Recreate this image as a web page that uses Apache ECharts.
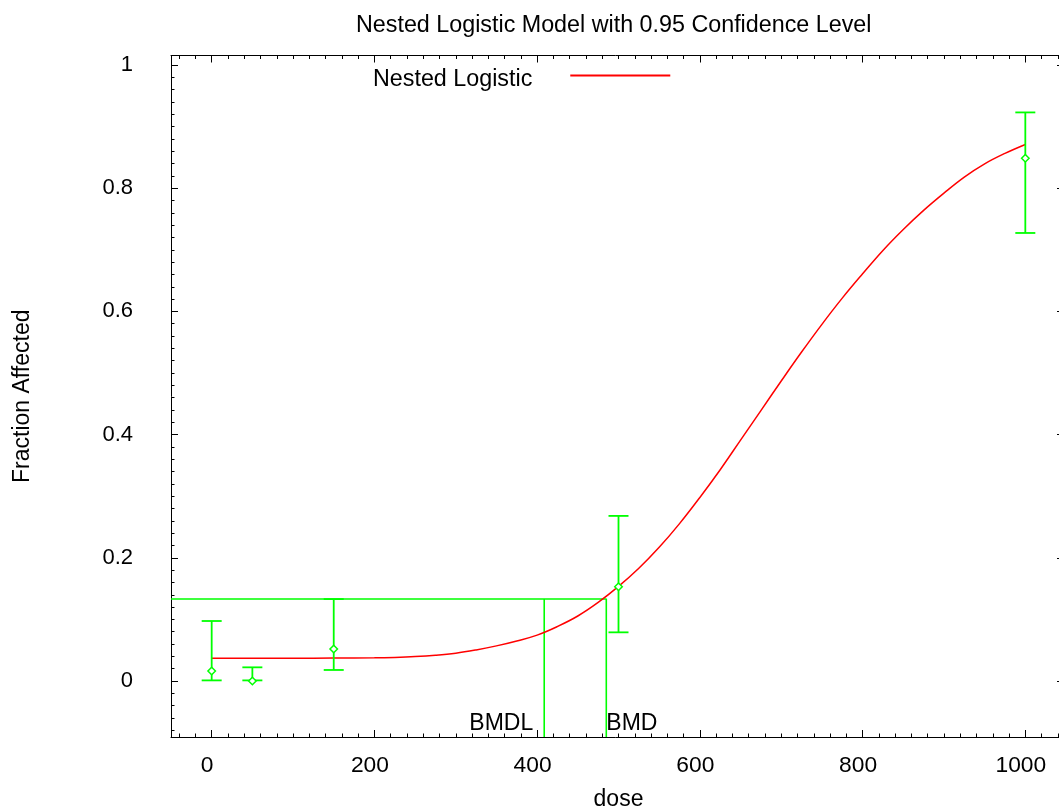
<!DOCTYPE html>
<html>
<head>
<meta charset="utf-8">
<script src="https://cdn.jsdelivr.net/npm/echarts@6/dist/echarts.min.js"></script>
<style>
html,body{margin:0;padding:0;background:#fff;overflow:hidden;}
#chart{width:1059px;height:808px;}
</style>
</head>
<body>
<div id="chart"></div>
<script>
// ---- data ----
const doses      = [0, 50, 150, 500, 1000];
const observed   = [0.0162, 0.0, 0.052, 0.153, 0.8485];
const lowerCI    = [0.001, 0.001, 0.0179, 0.079, 0.7273];
const upperCI    = [0.0974, 0.0222, 0.133, 0.268, 0.923];

const curveDose  = [0, 50, 100, 150, 200, 225, 250, 275, 300, 325, 350, 375, 400, 425, 450, 475, 500,
                    525, 550, 575, 600, 625, 650, 675, 700, 725, 750, 775, 800, 825, 850, 875, 900, 925, 950, 975, 1000];
const curveFrac  = [0.037, 0.037, 0.037, 0.0372, 0.0376, 0.0383, 0.0396, 0.0418, 0.0452, 0.0505, 0.0570, 0.0650, 0.0745, 0.0885, 0.1055, 0.1275, 0.1535,
                    0.183, 0.217, 0.2555, 0.298, 0.343, 0.391, 0.439, 0.487, 0.534, 0.579, 0.6215, 0.661, 0.699, 0.733, 0.764, 0.792, 0.818, 0.8395, 0.8565, 0.871];

const bmrLevel = 0.1331;
const bmdl = 408.7;
const bmd = 485.0;
const markerLabels = ['BMDL', 'BMD'];

const xTickLabels = ['0', '200', '400', '600', '800', '1000'];
const yTickLabels = ['0', '0.2', '0.4', '0.6', '0.8', '1'];

const xMin = -50, xMax = 1050;
const yMin = -0.0909, yMax = 1.0154;

// ---- chart ----
const FONT = "'Liberation Sans', Arial, sans-serif";
const GREEN = '#00ff00';
const chart = echarts.init(document.getElementById('chart'), null, {renderer: 'canvas'});

function axisCommon(showLine, majorLen) {
  return {
    axisLine: {show: showLine, onZero: false, lineStyle: {color: '#000', width: 1}},
    axisTick: {show: true, inside: true, length: majorLen, lineStyle: {color: '#000', width: 1}},
    minorTick: {show: true, splitNumber: 10, length: 3.5, lineStyle: {color: '#000', width: 1}},
    splitLine: {show: false},
    minorSplitLine: {show: false},
  };
}

const option = {
  backgroundColor: '#fff',
  animation: false,
  textStyle: {fontFamily: FONT},
  title: {
    text: 'Nested Logistic Model with 0.95 Confidence Level',
    left: 351, top: 9,
    textStyle: {fontSize: 23.3, fontWeight: 'normal', color: '#000', fontFamily: FONT}
  },
  legend: {
    data: [{name: 'Nested Logistic', icon: 'rect'}],
    left: 373, top: 64, padding: 0,
    align: 'right',
    itemWidth: 100, itemHeight: 2,
    selectedMode: false,
    formatter: '{s|}{a|{name}}',
    textStyle: {
      fontSize: 23.3, color: '#000', fontFamily: FONT,
      rich: {
        s: {height: 32, width: 0},
        a: {fontSize: 23.3, lineHeight: 23, verticalAlign: 'bottom', color: '#000', fontFamily: FONT, padding: [0, 33, 0, 0]}
      }
    }
  },
  grid: {left: 171, right: -7, top: 55.5, bottom: 71, outerBoundsMode: 'none', containLabel: false},
  xAxis: [
    Object.assign({
      type: 'value', min: xMin, max: xMax, splitNumber: 5, position: 'bottom',
      name: 'dose', nameLocation: 'middle', nameGap: 51,
      nameTextStyle: {fontSize: 23, color: '#000', fontFamily: FONT},
      axisLabel: {
        show: true, margin: 17, fontSize: 22.8, color: '#000', fontFamily: FONT,
        showMinLabel: false, showMaxLabel: false, padding: [0, 9, 0, 0],
        formatter: function (v) { const s = String(Math.round(v)); return xTickLabels.indexOf(s) >= 0 && Math.abs(v % 200) < 1e-6 ? s : ''; }
      }
    }, axisCommon(true, 7)),
    Object.assign({
      type: 'value', min: xMin, max: xMax, splitNumber: 5, position: 'top',
      axisLabel: {show: false}
    }, axisCommon(true, 7))
  ],
  yAxis: [
    Object.assign({
      type: 'value', min: yMin, max: yMax, splitNumber: 5, position: 'left',
      name: 'Fraction Affected', nameLocation: 'middle', nameGap: 137,
      nameTextStyle: {fontSize: 23, color: '#000', fontFamily: FONT},
      axisLabel: {
        show: true, margin: 38, fontSize: 22, color: '#000', fontFamily: FONT,
        showMinLabel: false, showMaxLabel: false,
        formatter: function (v) { const s = String(Math.round(v * 10) / 10); return yTickLabels.indexOf(s) >= 0 ? s : ''; }
      }
    }, axisCommon(true, 7)),
    Object.assign({
      type: 'value', min: yMin, max: yMax, splitNumber: 5, position: 'right',
      axisLabel: {show: false}
    }, axisCommon(false, 9))
  ],
  series: [
    {
      name: 'Nested Logistic',
      type: 'line',
      data: curveDose.map((d, i) => [d, curveFrac[i]]),
      smooth: 0.4,
      showSymbol: false,
      color: '#ff0000',
      lineStyle: {color: '#ff0000', width: 1.5},
      z: 3
    },
    {
      name: 'BMR',
      type: 'line',
      data: [[xMin, bmrLevel], [bmd, bmrLevel], [bmd, yMin]],
      showSymbol: false,
      lineStyle: {color: GREEN, width: 1.6},
      z: 2
    },
    {
      name: 'BMDL line',
      type: 'line',
      data: [[bmdl, bmrLevel], [bmdl, yMin]],
      showSymbol: false,
      lineStyle: {color: GREEN, width: 1.6},
      z: 2
    },
    {
      name: 'errorbars',
      type: 'custom',
      data: doses.map((d, i) => [d, lowerCI[i], upperCI[i]]),
      renderItem: function (params, api) {
        const x = api.value(0);
        const top = api.coord([x, api.value(2)]);
        const bot = api.coord([x, api.value(1)]);
        const hw = 10;
        const st = {stroke: GREEN, lineWidth: 1.8};
        return {
          type: 'group',
          children: [
            {type: 'line', shape: {x1: top[0], y1: top[1], x2: bot[0], y2: bot[1]}, style: st},
            {type: 'line', shape: {x1: top[0] - hw, y1: top[1], x2: top[0] + hw, y2: top[1]}, style: st},
            {type: 'line', shape: {x1: bot[0] - hw, y1: bot[1], x2: bot[0] + hw, y2: bot[1]}, style: st}
          ]
        };
      },
      z: 4
    },
    {
      name: 'observed',
      type: 'scatter',
      data: doses.map((d, i) => [d, observed[i]]),
      symbol: 'diamond',
      symbolSize: 7.5,
      itemStyle: {color: '#ffffff', borderColor: GREEN, borderWidth: 1.5, opacity: 1},
      z: 5
    },
    {
      name: 'bmdLabels',
      type: 'custom',
      data: [[bmdl, yMin], [bmd, yMin]],
      renderItem: function (params, api) {
        const p = api.coord([api.value(0), api.value(1)]);
        const isL = params.dataIndex === 0;
        return {
          type: 'text',
          x: isL ? p[0] - 11 : p[0],
          y: p[1] - 2,
          style: {
            text: markerLabels[params.dataIndex],
            textAlign: isL ? 'right' : 'left',
            textVerticalAlign: 'bottom',
            font: '23px ' + FONT,
            fill: '#000'
          }
        };
      },
      z: 6
    }
  ]
};
chart.setOption(option);
</script>
</body>
</html>
